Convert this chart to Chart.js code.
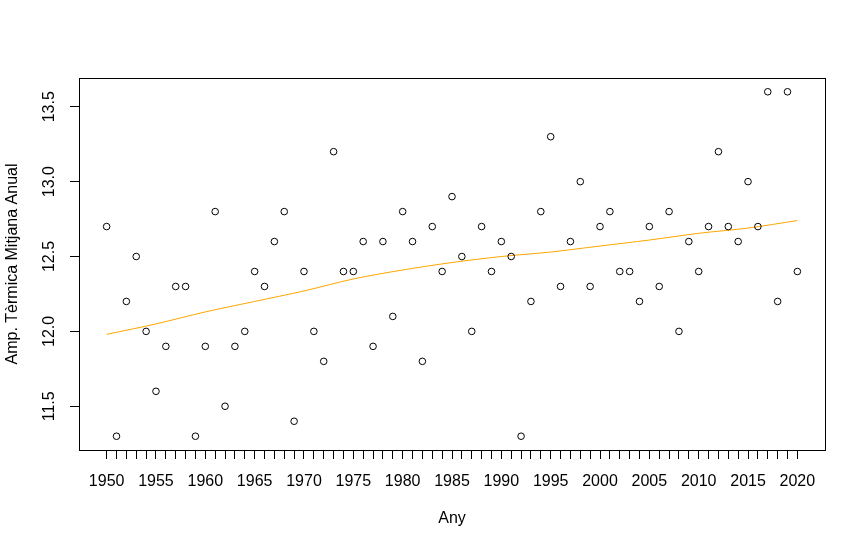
<!DOCTYPE html>
<html>
<head>
<meta charset="utf-8">
<script src="https://cdn.jsdelivr.net/npm/chart.js@4"></script>
<style>
  html, body { margin: 0; padding: 0; background: #fff; }
  #wrap { width: 866px; height: 548px; }
</style>
</head>
<body>
<div id="wrap"><canvas id="myChart" width="866" height="548"></canvas></div>
<script>
// Any (year) and annual mean thermal amplitude
const years = [1950, 1951, 1952, 1953, 1954, 1955, 1956, 1957, 1958, 1959,
  1960, 1961, 1962, 1963, 1964, 1965, 1966, 1967, 1968, 1969,
  1970, 1971, 1972, 1973, 1974, 1975, 1976, 1977, 1978, 1979,
  1980, 1981, 1982, 1983, 1984, 1985, 1986, 1987, 1988, 1989,
  1990, 1991, 1992, 1993, 1994, 1995, 1996, 1997, 1998, 1999,
  2000, 2001, 2002, 2003, 2004, 2005, 2006, 2007, 2008, 2009,
  2010, 2011, 2012, 2013, 2014, 2015, 2016, 2017, 2018, 2019, 2020];
const amplitude = [12.7, 11.3, 12.2, 12.5, 12.0, 11.6, 11.9, 12.3, 12.3, 11.3,
  11.9, 12.8, 11.5, 11.9, 12.0, 12.4, 12.3, 12.6, 12.8, 11.4,
  12.4, 12.0, 11.8, 13.2, 12.4, 12.4, 12.6, 11.9, 12.6, 12.1,
  12.8, 12.6, 11.8, 12.7, 12.4, 12.9, 12.5, 12.0, 12.7, 12.4,
  12.6, 12.5, 11.3, 12.2, 12.8, 13.3, 12.3, 12.6, 13.0, 12.3,
  12.7, 12.8, 12.4, 12.4, 12.2, 12.7, 12.3, 12.8, 12.0, 12.6,
  12.4, 12.7, 13.2, 12.7, 12.6, 13.0, 12.7, 13.6, 12.2, 13.6, 12.4];

// smoothed trend
const trendYears = [1950, 1955, 1960, 1965, 1970, 1975, 1980, 1985, 1990, 1995, 2000, 2005, 2010, 2015, 2020];
const trendValues = [11.98, 12.05, 12.13, 12.20, 12.27, 12.35, 12.41, 12.46, 12.50, 12.53, 12.57, 12.61, 12.655, 12.69, 12.74];

const yTicks = [11.5, 12.0, 12.5, 13.0, 13.5];
const xLabelStep = 5;

const FONT = "'Liberation Sans', Arial, sans-serif";

const boxPlugin = {
  id: "box",
  afterDraw(chart) {
    const a = chart.chartArea;
    const ctx = chart.ctx;
    ctx.save();
    ctx.strokeStyle = "#000";
    ctx.lineWidth = 1;
    ctx.strokeRect(Math.round(a.left) + 0.5, Math.round(a.top) + 0.5,
      Math.round(a.right - a.left), Math.round(a.bottom - a.top));
    ctx.restore();
  }
};

const ctx = document.getElementById("myChart").getContext("2d");
window.myChart = new Chart(ctx, {
  type: "scatter",
  data: {
    datasets: [
      {
        label: "Amp",
        data: years.map((y, i) => ({ x: y, y: amplitude[i] })),
        pointRadius: 3.3,
        pointHoverRadius: 3.3,
        borderColor: "#000",
        backgroundColor: "rgba(0,0,0,0)",
        borderWidth: 1,
      },
      {
        label: "trend",
        data: trendYears.map((y, i) => ({ x: y, y: trendValues[i] })),
        showLine: true,
        pointRadius: 0,
        borderColor: "#FFA500",
        borderWidth: 1,
        tension: 0.3,
      },
    ],
  },
  options: {
    responsive: false,
    animation: false,
    devicePixelRatio: 1,
    layout: { padding: { top: 78, right: 41, left: 0, bottom: 0 } },
    plugins: { legend: { display: false }, tooltip: { enabled: false } },
    scales: {
      x: {
        type: "linear",
        min: 1947.2,
        max: 2022.8,
        afterBuildTicks: (scale) => { scale.ticks = years.map((v) => ({ value: v })); },
        afterFit: (scale) => { scale.height = 98; },
        grid: { drawOnChartArea: false, drawTicks: true, tickLength: 9, color: "#000" },
        border: { display: false },
        ticks: {
          autoSkip: false,
          maxRotation: 0,
          padding: 13,
          color: "#000",
          font: { family: FONT, size: 16 },
          callback: (v) => (v % xLabelStep === 0 ? String(v) : ""),
        },
        title: {
          display: true,
          text: "Any",
          color: "#000",
          font: { family: FONT, size: 16 },
          padding: { top: 0, bottom: 20 },
        },
      },
      y: {
        min: 11.208,
        max: 13.692,
        afterBuildTicks: (scale) => { scale.ticks = yTicks.map((v) => ({ value: v })); },
        afterFit: (scale) => { scale.width = 79; },
        grid: { drawOnChartArea: false, drawTicks: true, tickLength: 9, color: "#000" },
        border: { display: false },
        ticks: {
          minRotation: 90,
          maxRotation: 90,
          crossAlign: "center",
          padding: 5,
          color: "#000",
          font: { family: FONT, size: 16 },
          callback: (v) => Number(v).toFixed(1),
        },
        title: {
          display: true,
          text: "Amp. Tèrmica Mitjana Anual",
          color: "#000",
          font: { family: FONT, size: 16 },
          padding: { top: 3, bottom: 0 },
        },
      },
    },
  },
  plugins: [boxPlugin],
});
</script>
</body>
</html>
